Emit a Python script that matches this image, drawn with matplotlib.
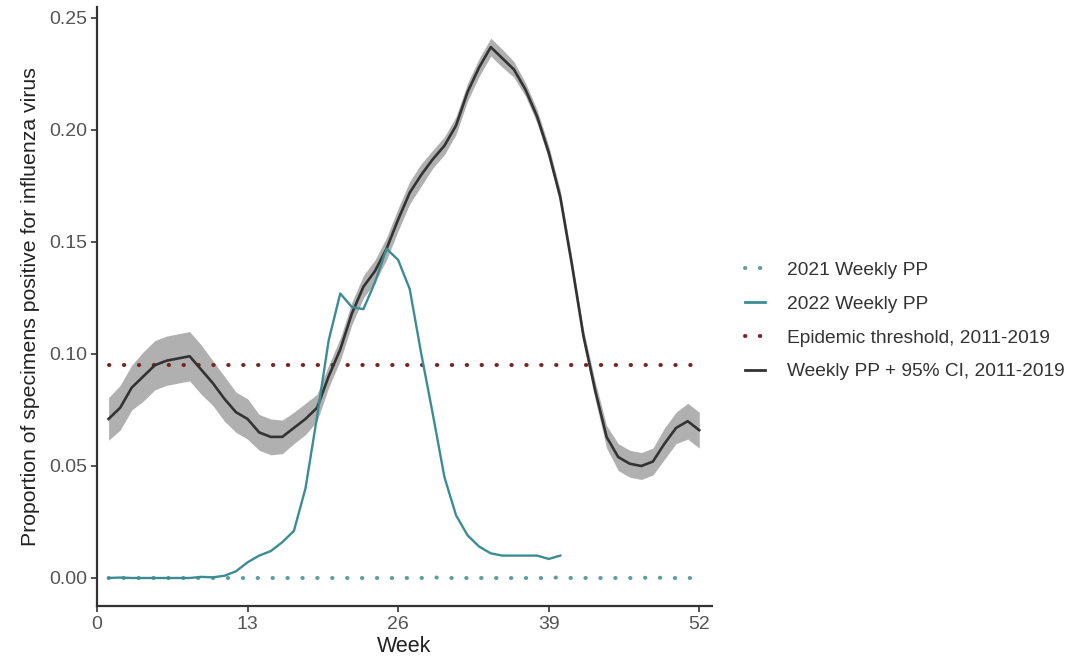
import matplotlib
matplotlib.use("Agg")
import matplotlib.pyplot as plt
from matplotlib.lines import Line2D
import numpy as np

plt.rcParams['font.family'] = ['Liberation Sans', 'DejaVu Sans']

weeks_all = list(range(1, 53))
weeks_2022 = list(range(1, 41))

# Weekly PP 2011-2019 (mean) and 95% CI half-width
pp_mean = [0.071, 0.076, 0.085, 0.090, 0.095, 0.097, 0.098, 0.099, 0.093, 0.087,
           0.080, 0.074, 0.071, 0.065, 0.063, 0.063, 0.067, 0.071, 0.076, 0.090,
           0.102, 0.118, 0.130, 0.137, 0.147, 0.160, 0.172, 0.180, 0.187, 0.193,
           0.202, 0.217, 0.228, 0.237, 0.232, 0.227, 0.218, 0.206, 0.190, 0.170,
           0.140, 0.108, 0.084, 0.063, 0.054, 0.051, 0.050, 0.052, 0.060, 0.067,
           0.070, 0.066]
ci_half = [0.0095, 0.010, 0.010, 0.011, 0.011, 0.011, 0.011, 0.011, 0.011, 0.010,
           0.010, 0.009, 0.009, 0.008, 0.008, 0.0075, 0.007, 0.007, 0.006, 0.005,
           0.005, 0.005, 0.005, 0.005, 0.005, 0.005, 0.005, 0.005, 0.004, 0.004,
           0.004, 0.004, 0.004, 0.004, 0.004, 0.0035, 0.003, 0.003, 0.003, 0.003,
           0.003, 0.003, 0.004, 0.005, 0.006, 0.006, 0.006, 0.006, 0.007, 0.007,
           0.008, 0.008]

pp_2022 = [0.000, 0.0002, 0.000, 0.000, 0.000, 0.000, 0.000, 0.000, 0.0005, 0.0003,
           0.001, 0.003, 0.007, 0.010, 0.012, 0.016, 0.021, 0.040, 0.072, 0.106,
           0.127, 0.121, 0.120, 0.132, 0.147, 0.142, 0.129, 0.100, 0.073, 0.045,
           0.028, 0.019, 0.014, 0.011, 0.010, 0.010, 0.010, 0.010, 0.0085, 0.010]

pp_2021 = [0.0, 0.0, 0.0, 0.0, 0.0, 0.0, 0.0, 0.0, 0.0, 0.0,
           0.0, 0.0, 0.0, 0.0, 0.0, 0.0, 0.0, 0.0, 0.0, 0.0,
           0.0, 0.0, 0.0, 0.0, 0.0, 0.0, 0.0, 0.0, 0.0003, 0.0,
           0.0, 0.0, 0.0, 0.0, 0.0, 0.0, 0.0, 0.0, 0.0, 0.0003,
           0.0, 0.0, 0.0, 0.0, 0.0, 0.0, 0.0, 0.0003, 0.0, 0.0,
           0.0, 0.0]

threshold = 0.095

x_ticks = [0, 13, 26, 39, 52]
y_ticks = [0.00, 0.05, 0.10, 0.15, 0.20, 0.25]

labels = ["2021 Weekly PP", "2022 Weekly PP", "Epidemic threshold, 2011-2019",
          "Weekly PP + 95% CI, 2011-2019"]

c_2021 = '#5f9e9a'
c_2022 = '#3b8d93'
c_thr = '#7a2424'
c_pp = '#333333'
c_band = '#b0b0b0'

fig = plt.figure(figsize=(10.92, 6.57), dpi=100)
ax = fig.add_axes([97/1092, 1-606/657, 615/1092, 599/657])

mean = np.array(pp_mean)
half = np.array(ci_half)
ax.fill_between(weeks_all, mean - half, mean + half, color=c_band, lw=0, zorder=1)
ax.plot(weeks_all, pp_mean, color=c_pp, lw=1.9, zorder=3)
dot = (0, (0.1, 3.6))
ax.plot([1, 52], [threshold, threshold], color=c_thr, lw=2.9,
        linestyle=dot, dash_capstyle='round', zorder=2)
ax.plot(weeks_all, pp_2021, color=c_2021, lw=2.9,
        linestyle=dot, dash_capstyle='round', zorder=2)
ax.plot(weeks_2022, pp_2022, color=c_2022, lw=1.7, zorder=4)

ax.set_xlim(0, 53.1)
ax.set_ylim(-0.0125, 0.2549)
ax.set_xticks(x_ticks)
ax.set_xticklabels([str(t) for t in x_ticks])
ax.set_yticks(y_ticks)
ax.set_yticklabels([f"{t:.2f}" for t in y_ticks])

for s in ['top', 'right']:
    ax.spines[s].set_visible(False)
for s in ['left', 'bottom']:
    ax.spines[s].set_color('#333333')
    ax.spines[s].set_linewidth(1.6)
ax.tick_params(axis='both', direction='out', length=4, width=1.2, color='#333333',
               labelsize=14, labelcolor='#555555', pad=3)

ax.set_xlabel("Week", fontsize=15.5, color='#222222', labelpad=2)
ax.set_ylabel("Proportion of specimens positive for influenza virus", fontsize=15.3,
              color='#222222', labelpad=7)

handles = [
    Line2D([], [], color=c_2021, lw=2.9, linestyle=dot, dash_capstyle='round'),
    Line2D([], [], color=c_2022, lw=2.0),
    Line2D([], [], color=c_thr, lw=2.9, linestyle=dot, dash_capstyle='round'),
    Line2D([], [], color=c_pp, lw=2.0),
]
fig.legend(handles, labels, loc='center left', bbox_to_anchor=(745/1092, 1-321/657),
           frameon=False, fontsize=13.8, handlelength=1.05, handletextpad=1.15,
           labelspacing=0.85, borderpad=0, borderaxespad=0,
           labelcolor='#333333')

fig.savefig("out.png", dpi=100, facecolor='white')
